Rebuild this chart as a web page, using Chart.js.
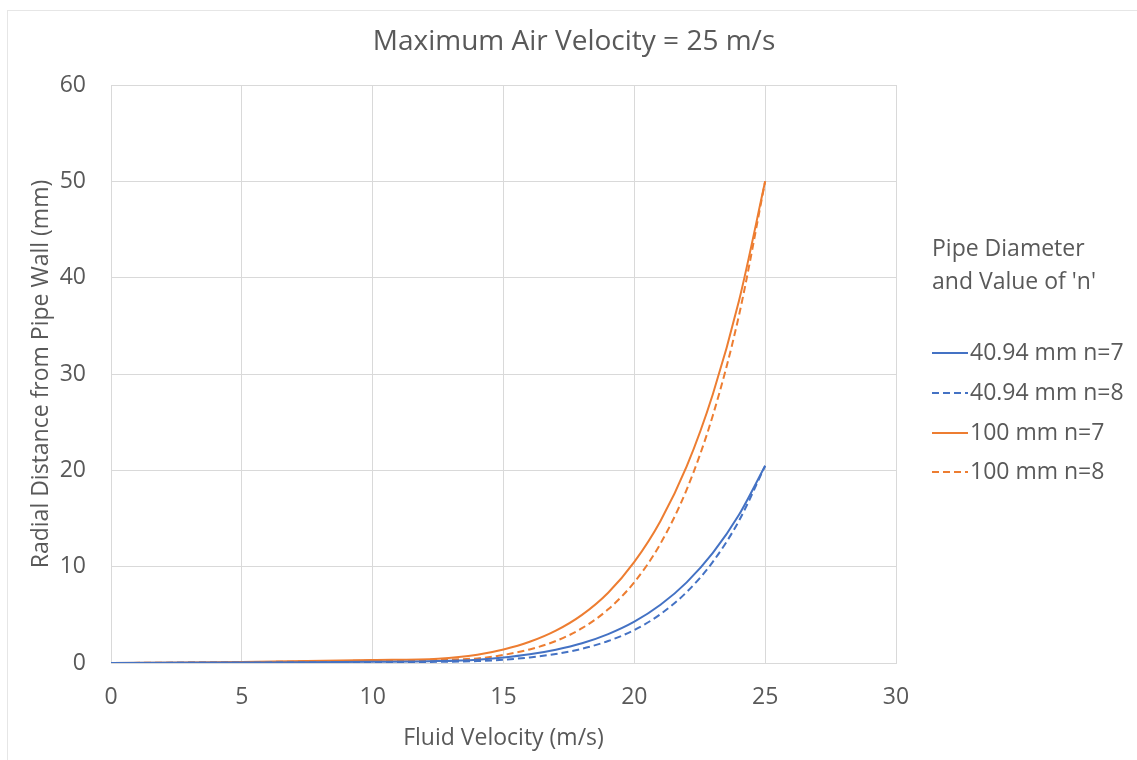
<!DOCTYPE html>
<html>
<head>
<meta charset="utf-8">
<script src="https://cdn.jsdelivr.net/npm/chart.js@4.4.1/dist/chart.umd.min.js"></script>
<style>
  html, body { margin: 0; padding: 0; background: #ffffff; overflow: hidden; }
  #frame { position: absolute; left: 7px; top: 10px; width: 1150px; height: 770px;
           border: 1px solid #e6e6e6; box-sizing: border-box; }
  #chart { position: absolute; left: 0; top: 0; }
</style>
</head>
<body>
<div id="frame"></div>
<canvas id="chart" width="1137" height="760"></canvas>
<script>
// Fluid velocity (m/s) at which each radial distance is given
const velocity = [0, 5, 10, 12.5, 14, 15, 16, 17, 18, 19, 20, 21, 22, 23, 24, 25];

// Radial distance from the pipe wall (mm) for each pipe / exponent
const d4094n7 = [0, 0.05, 0.12, 0.20, 0.35, 0.57, 0.90, 1.38, 2.05, 3.00, 4.29, 6.04, 8.37, 11.42, 15.38, 20.47];
const d4094n8 = [0, 0.03, 0.08, 0.12, 0.20, 0.34, 0.58, 0.94, 1.48, 2.28, 3.43, 5.07, 7.36, 10.50, 14.77, 20.47];
const d100n7  = [0, 0.10, 0.30, 0.45, 0.86, 1.40, 2.20, 3.36, 5.00, 7.30, 10.50, 14.75, 20.40, 27.90, 37.60, 50.00];
const d100n8  = [0, 0.08, 0.25, 0.35, 0.48, 0.84, 1.41, 2.28, 3.61, 5.57, 8.39, 12.40, 18.00, 25.70, 36.10, 50.00];

const seriesLabels = ['40.94 mm n=7', '40.94 mm n=8', '100 mm n=7', '100 mm n=8'];
const chartTitle = 'Maximum Air Velocity = 25 m/s';
const legendTitle = ['Pipe Diameter', "and Value of 'n'"];
const xTitle = 'Fluid Velocity (m/s)';
const yTitle = 'Radial Distance from Pipe Wall (mm)';

const BLUE = '#4472C4';
const ORANGE = '#ED7D31';
const TEXT = '#595959';
const GRID = '#d9d9d9';
const FONT = "'Open Sans', sans-serif";
const DASH = [7, 4];

const toPoints = arr => velocity.map((v, i) => ({ x: v, y: arr[i] }));

const series = [
  { data: d4094n7, color: BLUE,   dash: [] },
  { data: d4094n8, color: BLUE,   dash: DASH },
  { data: d100n7,  color: ORANGE, dash: [] },
  { data: d100n8,  color: ORANGE, dash: DASH }
];

// Chart heading and the right-hand key
const annotations = {
  id: 'annotations',
  afterDraw(chart) {
    const ctx = chart.ctx;
    ctx.save();
    ctx.fillStyle = TEXT;
    ctx.textBaseline = 'middle';
    ctx.textAlign = 'center';
    ctx.font = `28px ${FONT}`;
    ctx.fillText(chartTitle, 574, 42);

    ctx.textAlign = 'left';
    ctx.font = `23px ${FONT}`;
    ctx.fillText(legendTitle[0], 932, 249);
    ctx.fillText(legendTitle[1], 932, 282);

    const rows = [353, 393, 433, 472];
    chart.data.datasets.forEach((ds, i) => {
      const y = rows[i];
      ctx.strokeStyle = ds.borderColor;
      ctx.lineWidth = 2;
      ctx.setLineDash(ds.borderDash || []);
      ctx.beginPath();
      ctx.moveTo(932, y);
      ctx.lineTo(968, y);
      ctx.stroke();
      ctx.setLineDash([]);
      ctx.fillStyle = TEXT;
      ctx.fillText(ds.label, 970, y);
    });
    ctx.restore();
  }
};

new Chart(document.getElementById('chart'), {
  type: 'line',
  data: {
    datasets: series.map((s, i) => ({
      label: seriesLabels[i],
      data: toPoints(s.data),
      borderColor: s.color,
      backgroundColor: s.color,
      borderWidth: 2,
      borderDash: s.dash,
      pointRadius: 0,
      fill: false,
      cubicInterpolationMode: 'monotone'
    }))
  },
  options: {
    responsive: false,
    animation: false,
    layout: { padding: { top: 85, right: 241, bottom: 0, left: 0 } },
    plugins: {
      legend: { display: false },
      title: { display: false },
      tooltip: { enabled: false }
    },
    scales: {
      x: {
        type: 'linear',
        min: 0, max: 30,
        ticks: { stepSize: 5, color: TEXT, font: { family: FONT, size: 23 }, padding: 21, maxRotation: 0 },
        grid: { color: GRID, lineWidth: 1, drawTicks: false },
        border: { color: GRID, width: 1 },
        title: { display: true, text: xTitle, color: TEXT, font: { family: FONT, size: 23 }, padding: { top: 0, bottom: 8 } },
        afterFit(scale) { scale.height = 97; }
      },
      y: {
        type: 'linear',
        min: 0, max: 60,
        ticks: { stepSize: 10, color: TEXT, font: { family: FONT, size: 23 }, padding: 25 },
        grid: { color: GRID, lineWidth: 1, drawTicks: false },
        border: { color: GRID, width: 1 },
        title: { display: true, text: yTitle, color: TEXT, font: { family: FONT, size: 23 }, padding: { top: 28, bottom: 0 } },
        afterFit(scale) { scale.width = 111; }
      }
    }
  },
  plugins: [annotations]
});
</script>
</body>
</html>
